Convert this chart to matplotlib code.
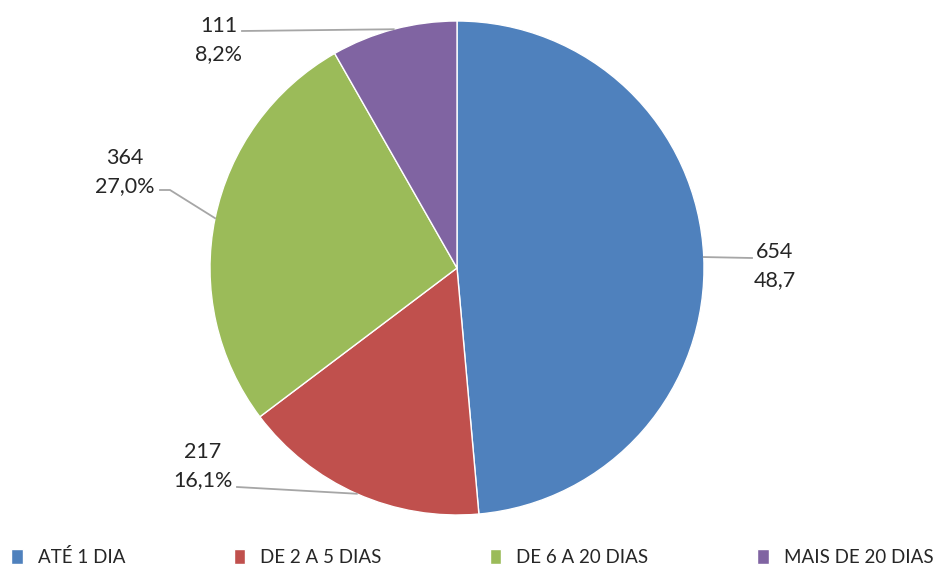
import numpy as np
import matplotlib
matplotlib.use('Agg')
import matplotlib.pyplot as plt

plt.rcParams['font.family'] = ['Lato', 'DejaVu Sans']

# ── DATA ───────────────────────────────────────────────
categories = ['ATÉ 1 DIA', 'DE 2 A 5 DIAS', 'DE 6 A 20 DIAS', 'MAIS DE 20 DIAS']
counts = [654, 217, 364, 111]
pct_labels = ['48,7', '16,1%', '27,0%', '8,2%']   # as printed on the chart
colors = ['#4F81BD', '#C0504D', '#9BBB59', '#8064A2']

W, H = 942, 567
CX, CY, R = 457, 268, 247   # pie centre / radius in pixels


def px(x, y):
    # pixel position -> data coords of the pie axes
    return (x - CX) / R, (CY - y) / R


# label centre (pixels) and leader line start / elbow (pixels)
label_pos = [(775, 266), (203, 466), (125, 172), (219, 40)]
leader_start = [[(752, 258)], [(237, 487)], [(160, 190), (170, 190)], [(242, 31)]]

fig = plt.figure(figsize=(W / 100, H / 100), dpi=100)
ax = fig.add_axes([(CX - R) / W, (H - CY - R) / H, 2 * R / W, 2 * R / H])

wedges, _ = ax.pie(counts, colors=colors, startangle=90, counterclock=False,
                   radius=1, wedgeprops=dict(edgecolor='white', linewidth=1))
ax.set_xlim(-1, 1)
ax.set_ylim(-1, 1)
ax.set_aspect('equal')
ax.axis('off')

for w, cnt, pct, lp, ls in zip(wedges, counts, pct_labels, label_pos, leader_start):
    mid = np.deg2rad((w.theta1 + w.theta2) / 2)
    edge = (np.cos(mid), np.sin(mid))
    pts = [px(*p) for p in ls] + [edge]
    xs, ys = zip(*pts)
    ax.plot(xs, ys, color='#A6A6A6', linewidth=1.3, clip_on=False, zorder=1)
    tx, ty = px(*lp)
    ax.text(tx, ty, f'{cnt}\n{pct}', ha='center', va='center', multialignment='center',
            fontsize=15.5, color='#262626', linespacing=1.5)

fig.legend(wedges, categories, loc='lower left', bbox_to_anchor=(0.0, -0.018),
           ncol=4, frameon=False, fontsize=13.5, handlelength=0.6, handleheight=0.9,
           handletextpad=0.8, columnspacing=5.8, labelcolor='#262626', borderaxespad=0.2)

fig.savefig('out.png', dpi=100)
